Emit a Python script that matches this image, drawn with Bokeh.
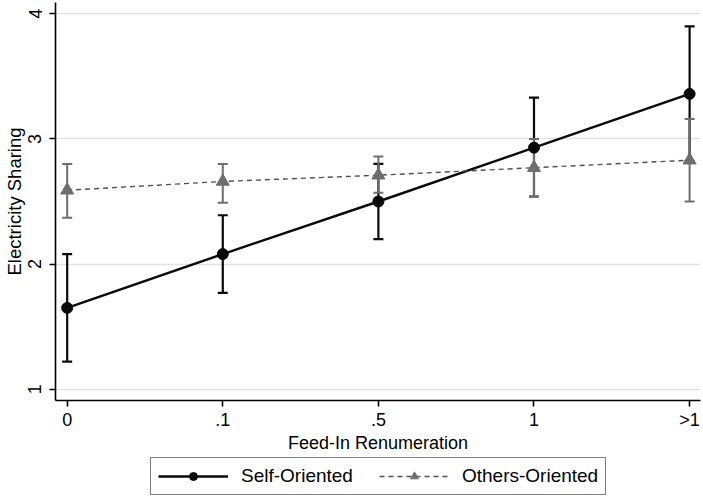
from bokeh.plotting import figure
from bokeh.layouts import column
from bokeh.models import (ColumnDataSource, Whisker, TeeHead, Legend, LegendItem,
                          FixedTicker, Range1d)
from bokeh.embed import file_html
from bokeh.resources import INLINE

# ---- data ----
categories = ["0", ".1", ".5", "1", ">1"]
self_mean = [1.65, 2.08, 2.50, 2.93, 3.36]
self_lo = [1.22, 1.77, 2.20, 2.54, 2.82]
self_hi = [2.08, 2.39, 2.80, 3.33, 3.90]
others_mean = [2.59, 2.66, 2.71, 2.77, 2.83]
others_lo = [2.37, 2.49, 2.57, 2.54, 2.50]
others_hi = [2.80, 2.80, 2.86, 3.00, 3.16]
y_ticks = [1, 2, 3, 4]
series_labels = ["Self-Oriented", "Others-Oriented"]

xpos = list(range(len(categories)))

src_self = ColumnDataSource(dict(x=xpos, y=self_mean, lo=self_lo, hi=self_hi))
src_oth = ColumnDataSource(dict(x=xpos, y=others_mean, lo=others_lo, hi=others_hi))

FONT = "Liberation Sans"
BLACK = "#0a0a0a"
GRAY = "#6e6e6e"
DASH = "#505050"


def style_series(fig):
    """Draw both series (lines + markers) on a figure; return renderers."""
    r1 = fig.line("x", "y", source=src_self, line_color=BLACK, line_width=2.4)
    r2 = fig.scatter("x", "y", source=src_self, marker="circle", size=11,
                     fill_color=BLACK, line_color=BLACK)
    r3 = fig.line("x", "y", source=src_oth, line_color=DASH, line_width=1.4,
                  line_dash="5 4")
    r4 = fig.scatter("x", "y", source=src_oth, marker="triangle", size=13,
                     fill_color=GRAY, line_color=GRAY)
    return r1, r2, r3, r4


p = figure(width=703, height=455, output_backend="svg", toolbar_location=None,
           x_range=Range1d(-0.075, 4.07), y_range=Range1d(0.91, 4.09))
p.min_border = 0
p.min_border_left = 54
p.min_border_right = 3
p.min_border_top = 2
p.min_border_bottom = 55
p.outline_line_color = None
p.background_fill_color = "white"
p.border_fill_color = "white"

# axes
p.xaxis.ticker = FixedTicker(ticks=xpos)
p.xaxis.major_label_overrides = {i: c for i, c in zip(xpos, categories)}
p.yaxis.ticker = FixedTicker(ticks=y_ticks)
for ax in (p.xaxis, p.yaxis):
    ax.axis_line_color = "black"
    ax.axis_line_width = 1.6
    ax.major_tick_line_color = "black"
    ax.major_tick_line_width = 1.6
    ax.major_tick_out = 6
    ax.major_tick_in = 0
    ax.minor_tick_line_color = None
    ax.major_label_text_font = FONT
    ax.major_label_text_font_size = "18px"
    ax.major_label_text_color = "black"
    ax.axis_label_text_font = FONT
    ax.axis_label_text_font_style = "normal"
    ax.axis_label_text_color = "black"
p.xaxis.major_label_standoff = 3
p.xaxis.axis_label = "Feed-In Renumeration"
p.xaxis.axis_label_text_font_size = "18px"
p.xaxis.axis_label_standoff = 0
p.yaxis.major_label_standoff = 8
p.yaxis.axis_label = "Electricity Sharing"
p.yaxis.axis_label_text_font_size = "18.5px"
p.yaxis.axis_label_standoff = 1
p.yaxis.major_label_orientation = "parallel"

p.xgrid.grid_line_color = None
p.ygrid.ticker = FixedTicker(ticks=y_ticks)
p.ygrid.grid_line_color = "#e3e3e3"
p.ygrid.grid_line_width = 1.5

# confidence intervals
w_self = Whisker(base="x", upper="hi", lower="lo", source=src_self,
                 line_color=BLACK, line_width=2.2,
                 upper_head=TeeHead(size=10, line_color=BLACK, line_width=2.2),
                 lower_head=TeeHead(size=10, line_color=BLACK, line_width=2.2))
w_oth = Whisker(base="x", upper="hi", lower="lo", source=src_oth,
                line_color=GRAY, line_width=2.0,
                upper_head=TeeHead(size=10, line_color=GRAY, line_width=2.0),
                lower_head=TeeHead(size=10, line_color=GRAY, line_width=2.0))
p.add_layout(w_self)
p.add_layout(w_oth)

style_series(p)

# ---- legend strip (separate figure below the plot; its series lie outside its view) ----
lf = figure(width=703, height=43, output_backend="svg", toolbar_location=None,
            x_range=Range1d(100, 101), y_range=Range1d(100, 101),
            x_axis_type=None, y_axis_type=None)
lf.min_border = 0
lf.min_border_left = 54
lf.min_border_right = 3
lf.outline_line_color = None
lf.xgrid.grid_line_color = None
lf.ygrid.grid_line_color = None
lf.border_fill_color = "white"
g1, g2, g3, g4 = style_series(lf)

legend = Legend(items=[LegendItem(label=series_labels[0], renderers=[g1, g2]),
                       LegendItem(label=series_labels[1], renderers=[g3, g4])],
                orientation="horizontal", location=(95, 3))
legend.label_text_font = FONT
legend.label_text_font_size = "19px"
legend.label_text_color = "black"
legend.border_line_color = "black"
legend.border_line_width = 1.5
legend.background_fill_color = "white"
legend.glyph_width = 70
legend.glyph_height = 20
legend.label_standoff = 13
legend.spacing = 26
legend.padding = 7
legend.margin = 0
legend.label_height = 20
lf.add_layout(legend)

layout = column(p, lf, spacing=0)
open("out.html", "w").write(file_html(layout, INLINE))
